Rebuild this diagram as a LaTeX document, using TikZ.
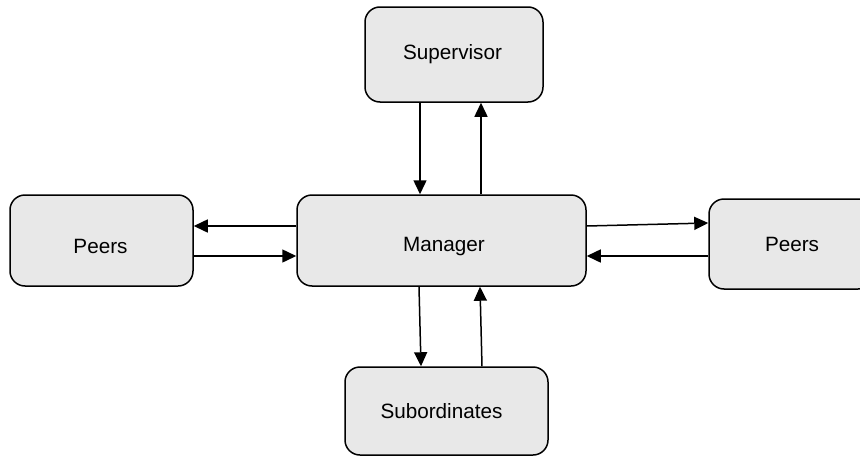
\documentclass[tikz,border=0pt]{standalone}
\usepackage{fontspec}
\setmainfont{Liberation Sans}
\usetikzlibrary{arrows.meta}
\definecolor{boxfill}{HTML}{E8E8E8}
\tikzset{
  rolebox/.style={draw=black, line width=1.5pt, fill=boxfill, rounded corners=15pt,
    inner sep=0pt, font=\fontsize{20.7}{24}\selectfont},
  flow/.style={line width=1.5pt, -{Triangle[length=14pt,width=13pt]}}
}
% shift a label inside its box: horizontal (twice the offset), vertical (down)
\newcommand{\boxtext}[3]{\hspace*{#1}\raisebox{-#2}[\height][\depth]{#3}}
\begin{document}
\begin{tikzpicture}[x=1pt,y=-1pt]
  \useasboundingbox (0,0) rectangle (860,458);
  \clip (0,0) rectangle (860,458);
  % role boxes
  \node[rolebox, minimum width=178pt, minimum height=95pt] (sup) at (454,54.5) {\boxtext{-3pt}{0pt}{Supervisor}};
  \node[rolebox, minimum width=289pt, minimum height=91pt] (man) at (441.5,240.5) {\boxtext{5pt}{6pt}{Manager}};
  \node[rolebox, minimum width=183pt, minimum height=91pt] (lp) at (101.5,240.5) {\boxtext{-2pt}{5.5pt}{Peers}};
  \node[rolebox, minimum width=164pt, minimum height=90pt, text width=164pt, align=left] (rp) at (791,244) {\hspace*{56pt}Peers};
  \node[rolebox, minimum width=203pt, minimum height=88pt] (sub) at (446.5,411) {\boxtext{-10pt}{0pt}{Subordinates}};
  % supervisor <-> manager
  \draw[flow] ([xshift=-34pt]sup.south) -- ([xshift=-21.5pt]man.north);
  \draw[flow] ([xshift=39.5pt]man.north) -- ([xshift=27pt]sup.south);
  % manager <-> left peers
  \draw[flow] ([yshift=14.5pt]man.west) -- ([yshift=14.5pt]lp.east);
  \draw[flow] ([yshift=-15.5pt]lp.east) -- ([yshift=-15.5pt]man.west);
  % manager <-> right peers
  \draw[flow] ([yshift=14.5pt]man.east) -- ([yshift=21pt]rp.west);
  \draw[flow] ([yshift=-12pt]rp.west) -- ([yshift=-15.5pt]man.east);
  % manager <-> subordinates
  \draw[flow] ([xshift=-22.5pt]man.south) -- ([xshift=-25.5pt]sub.north);
  \draw[flow] ([xshift=35.5pt]sub.north) -- ([xshift=38.5pt]man.south);
\end{tikzpicture}
\end{document}
